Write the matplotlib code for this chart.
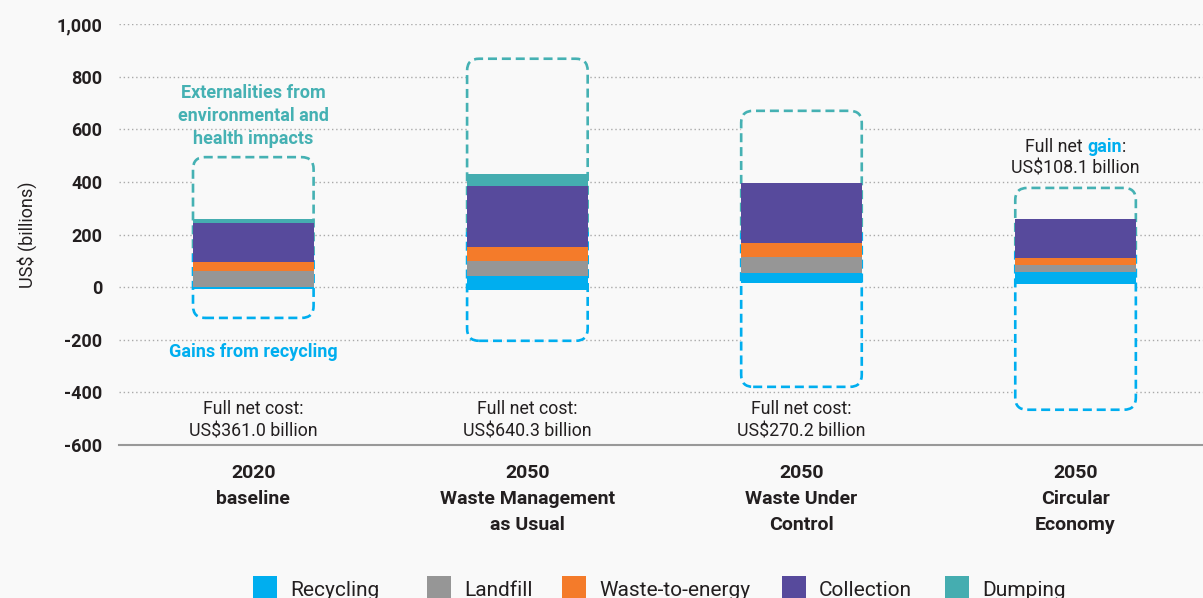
import matplotlib
matplotlib.use('Agg')
import matplotlib.pyplot as plt
from matplotlib import font_manager
from matplotlib.patches import FancyBboxPatch, Rectangle
from matplotlib.transforms import IdentityTransform

# fonts
names = {f.name for f in font_manager.fontManager.ttflist}
narrow = 'Liberation Sans Narrow' if 'Liberation Sans Narrow' in names else 'Roboto'
plt.rcParams['font.family'] = ['Roboto', 'DejaVu Sans']
plt.rcParams['lines.scale_dashes'] = False

# data (US$ billions)
categories = ['2020\nbaseline', '2050\nWaste Management\nas Usual',
              '2050\nWaste Under\nControl', '2050\nCircular\nEconomy']
stack_start = [-9, -10, 14, 10]
recycling = [11, 54, 38, 49]
landfill = [60, 56, 63, 25]
waste_to_energy = [35, 54, 54, 28]
collection = [147, 232, 227, 147]
dumping = [15, 44, 0, 0]
externalities_top = [494, 868, 670, 377]
gains_bottom = [-117, -204, -379, -466]
net_labels = ['Full net cost:\nUS$361.0 billion', 'Full net cost:\nUS$640.3 billion',
              'Full net cost:\nUS$270.2 billion', None]

series = [('Recycling', recycling, '#00aeef'),
          ('Landfill', landfill, '#969696'),
          ('Waste-to-energy', waste_to_energy, '#f47b2a'),
          ('Collection', collection, '#574a9c'),
          ('Dumping', dumping, '#45adb0')]

bg = '#f9f9f9'
teal = '#45b1b3'
blue = '#00aeef'
dark = '#231f20'

W, H = 1203, 598
fig = plt.figure(figsize=(W / 100, H / 100), dpi=100, facecolor=bg)
ax = fig.add_axes([119 / W, 1 - 445 / H, 1 - 119 / W, (445 - 24) / H])
ax.set_facecolor(bg)
ax.set_xlim(-0.49, 3.465)
ax.set_ylim(-600, 1000)

x = list(range(len(categories)))
width = 0.44

# stacked bars
bottom = list(stack_start)
for name, vals, col in series:
    ax.bar(x, vals, width, bottom=bottom, color=col, zorder=3, label=name)
    bottom = [b + v for b, v in zip(bottom, vals)]

# dashed rounded boxes: externalities (teal, above) and gains (blue, below)
fig.canvas.draw()
p0 = ax.transData.transform((0, 0))
p1 = ax.transData.transform((1, 1))
px_x = p1[0] - p0[0]
px_y = p1[1] - p0[1]
r = 12 / px_x
for i in x:
    split = (stack_start[i] + bottom[i]) / 2
    for col, clip_y, clip_h in [(teal, split, 3000), (blue, split - 3000, 3000)]:
        box = FancyBboxPatch((i - width / 2, gains_bottom[i]), width,
                             externalities_top[i] - gains_bottom[i],
                             boxstyle=f'round,pad=0,rounding_size={r}',
                             mutation_aspect=px_x / px_y,
                             facecolor=bg, edgecolor=col, lw=1.9,
                             linestyle=(0, (6.5, 3.5)), zorder=2, clip_on=True)
        ax.add_patch(box)
        box.set_clip_path(Rectangle((i - 1, clip_y), 2, clip_h, transform=ax.transData))

# annotations
ax.text(0, 651, 'Externalities from\nenvironmental and\nhealth impacts', ha='center', va='center',
        color=teal, fontsize=13, fontweight='bold', linespacing=1.35, zorder=4)
ax.text(0, -246, 'Gains from recycling', ha='center', va='center',
        color=blue, fontsize=13, fontweight='bold', zorder=4)
for i, lab in enumerate(net_labels):
    if lab:
        ax.text(i, -505, lab, ha='center', va='center', color=dark, fontsize=12.8,
                linespacing=1.35, zorder=4)

# "Full net gain:" with coloured word
cx, cy = ax.transData.transform((3, 533))
parts = [('Full net ', dict(color=dark)), ('gain', dict(color=blue, fontweight='bold')),
         (':', dict(color=dark))]
r_ = fig.canvas.get_renderer()
txts = [fig.text(0, cy, s, transform=IdentityTransform(), fontsize=12.8, va='center', **kw)
        for s, kw in parts]
widths = [t.get_window_extent(r_).width for t in txts]
xpos = cx - sum(widths) / 2
for t, w in zip(txts, widths):
    t.set_x(xpos)
    xpos += w
ax.text(3, 449, 'US$108.1 billion', ha='center', va='center', color=dark, fontsize=12.8)

# axes styling
ax.set_yticks(range(-600, 1001, 200))
ax.set_yticklabels([f'{v:,}' for v in range(-600, 1001, 200)],
                   fontfamily=narrow, fontweight='bold', fontsize=13, color=dark)
ax.set_xticks(x)
ax.set_xticklabels(categories, fontfamily=narrow, fontweight='bold', fontsize=14, color=dark)
for t in ax.get_xticklabels():
    t.set_linespacing(1.55)
ax.tick_params(axis='y', length=0, pad=12)
ax.tick_params(axis='x', length=0, pad=14)
ax.yaxis.grid(True, linestyle=(0, (1, 2)), color='#aaaaaa', lw=1)
ax.set_axisbelow(True)
ax.get_ygridlines()[0].set_visible(False)
for s in ['top', 'right', 'left']:
    ax.spines[s].set_visible(False)
ax.spines['bottom'].set_color('#999999')
ax.spines['bottom'].set_linewidth(1.5)
ax.set_ylabel('US$ (billions)', fontsize=13, color=dark, labelpad=14)

# legend, drawn by hand (pixel positions of each entry)
legend_x = [253, 427, 562, 782, 945]
for (name, _, col), lx in zip(series, legend_x):
    fig.patches.append(Rectangle((lx / W, 1 - 600 / H), 24 / W, 24 / H,
                                 transform=fig.transFigure, facecolor=col,
                                 edgecolor='none'))
    fig.text((lx + 37) / W, 1 - 596.5 / H, name, fontsize=15, color=dark,
             va='baseline', ha='left')

fig.savefig('out.png', dpi=100, facecolor=bg)
